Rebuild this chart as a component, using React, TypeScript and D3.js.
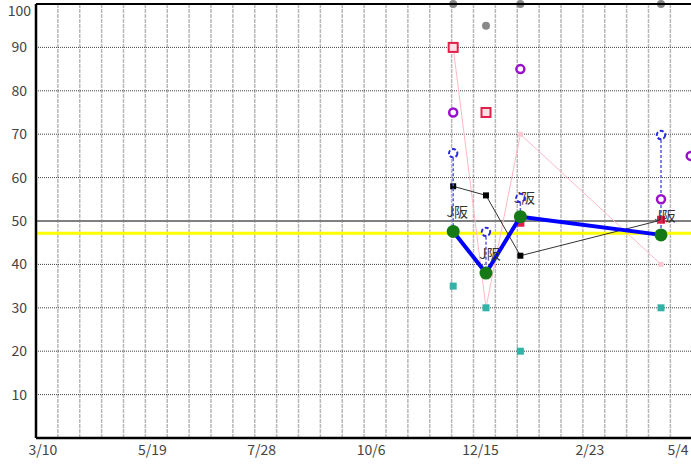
import React from "react";
import * as d3 from "d3";

// ---------- data ----------
const axisStart = "2013-03-10";
const axisEnd = "2014-05-04";
const xTickLabels = ["3/10", "5/19", "7/28", "10/6", "12/15", "2/23", "5/4"];
const yTickValues = [10, 20, 30, 40, 50, 60, 70, 80, 90, 100];

const pointDates = ["2013-12-02", "2013-12-23", "2014-01-14", "2014-04-14"];
const mainValues = [47.6, 38.0, 51.0, 46.8]; // green points, thick blue line
const mainLabels = ["J阪", "J阪", "J阪", "J阪"];
const blackValues = [58.0, 55.9, 42.0, 50.2];
const upperValues = [65.6, 47.5, 55.3, 69.8]; // blue rings
const tealValues = [35, 30, 20, 30];
const pinkValues = [90, 30, 70, 40];
const grayDates = ["2013-12-02", "2013-12-23", "2014-01-14", "2014-04-14"];
const grayValues = [100, 95, 100, 100];
const purpleDates = ["2013-12-02", "2014-01-14", "2014-04-14", "2014-05-03"];
const purpleValues = [75, 85, 55, 65];
const redOpenDates = ["2013-12-02", "2013-12-23"];
const redOpenValues = [90, 75];
const redFilledDates = ["2014-01-14", "2014-04-14"];
const redFilledValues = [49.6, 50.3];
const averageValue = 47.2;
const referenceValue = 50;

// ---------- layout ----------
const W = 691;
const H = 466;
const left = 36;
const top = 4;
const bottom = 438;
const pxPerDay = 1.5625;

const parse = d3.timeParse("%Y-%m-%d");

export default function App() {
  const d0 = parse(axisStart)!;
  const d1 = parse(axisEnd)!;
  const days = d3.timeDay.count(d0, d1);
  const x = d3.scaleTime().domain([d0, d1]).range([left, left + days * pxPerDay]);
  const y = d3.scaleLinear().domain([0, 100]).range([bottom, top]);

  const gridDates = d3.range(0, days + 30, 14).map((n) => d3.timeDay.offset(d0, n));
  const labelDates = xTickLabels.map((_, i) => d3.timeDay.offset(d0, i * 70));

  const pts = pointDates.map((d, i) => ({ x: x(parse(d)!), i }));
  const line = d3
    .line<[number, number]>()
    .x((d) => d[0])
    .y((d) => d[1]);

  const font = "'Noto Sans CJK JP', 'DejaVu Sans', sans-serif";

  return (
    <svg
      width={W}
      height={H}
      style={{ position: "absolute", left: 0, top: 0, background: "#fff" }}
    >
      <rect x={0} y={0} width={W} height={H} fill="#fff" />
      {/* vertical grid */}
      {gridDates.map((d, i) => (
        <line
          key={"vg" + i}
          x1={x(d)}
          x2={x(d)}
          y1={top}
          y2={bottom}
          stroke="#b8b8b8"
          strokeWidth={1.5}
          strokeDasharray="4,1"
        />
      ))}
      {/* horizontal grid */}
      {yTickValues
        .filter((v) => v < 100)
        .map((v) => (
          <line
            key={"hg" + v}
            x1={left}
            x2={W}
            y1={y(v)}
            y2={y(v)}
            stroke="#444"
            strokeWidth={1}
            strokeDasharray="1,1"
          />
        ))}
      {/* reference line 50 */}
      <line x1={left} x2={W} y1={y(referenceValue)} y2={y(referenceValue)} stroke="#808080" strokeWidth={2} />
      {/* average yellow line */}
      <line x1={left} x2={W} y1={y(averageValue)} y2={y(averageValue)} stroke="#ffff00" strokeWidth={3} />

      {/* pink line */}
      <path
        d={line(pts.map((p) => [p.x, y(pinkValues[p.i])]))!}
        fill="none"
        stroke="#ffb8c6"
        strokeWidth={1}
      />
      {pts.map((p) => (
        <rect key={"pk" + p.i} x={p.x - 2.5} y={y(pinkValues[p.i]) - 2.5} width={5} height={5} fill="#ffc8d4" />
      ))}

      {/* black line */}
      <path
        d={line(pts.map((p) => [p.x, y(blackValues[p.i])]))!}
        fill="none"
        stroke="#333"
        strokeWidth={1}
      />
      {pts.map((p) => (
        <rect key={"bk" + p.i} x={p.x - 3} y={y(blackValues[p.i]) - 3} width={6} height={6} fill="#000" />
      ))}

      {/* dashed range lines */}
      {pts.map((p) => (
        <line
          key={"rg" + p.i}
          x1={p.x}
          x2={p.x}
          y1={y(upperValues[p.i])}
          y2={y(mainValues[p.i])}
          stroke="#5a5ae0"
          strokeWidth={1.5}
          strokeDasharray="3,2"
        />
      ))}

      {/* teal squares */}
      {pts.map((p) => (
        <rect key={"tl" + p.i} x={p.x - 3.5} y={y(tealValues[p.i]) - 3.5} width={7} height={7} fill="#33b2a8" />
      ))}

      {/* gray dots */}
      {grayDates.map((d, i) => (
        <circle key={"gy" + i} cx={x(parse(d)!)} cy={y(grayValues[i])} r={4} fill="#888" />
      ))}

      {/* red filled */}
      {redFilledDates.map((d, i) => (
        <rect
          key={"rf" + i}
          x={x(parse(d)!) - 4}
          y={y(redFilledValues[i]) - 4}
          width={8}
          height={8}
          fill="#e0204a"
        />
      ))}

      {/* main thick blue line */}
      <path
        d={line(pts.map((p) => [p.x, y(mainValues[p.i])]))!}
        fill="none"
        stroke="#0000ff"
        strokeWidth={4}
        strokeLinejoin="round"
      />

      {/* labels */}
      {pts.map((p) => (
        <text
          key={"lb" + p.i}
          x={p.x + 4}
          y={y(mainValues[p.i]) - 14}
          textAnchor="middle"
          fontFamily={font}
          fontSize={14}
          fill="#333"
        >
          {mainLabels[p.i]}
        </text>
      ))}

      {pts.map((p) => (
        <circle key={"gn" + p.i} cx={p.x} cy={y(mainValues[p.i])} r={6.5} fill="#157a15" />
      ))}

      {/* blue rings */}
      {pts.map((p) => (
        <circle
          key={"br" + p.i}
          cx={p.x}
          cy={y(upperValues[p.i])}
          r={4.2}
          fill="#fff"
          stroke="#2a2ae0"
          strokeWidth={2}
          strokeDasharray="4,2"
        />
      ))}

      {/* purple rings */}
      {purpleDates.map((d, i) => (
        <circle
          key={"pp" + i}
          cx={x(parse(d)!)}
          cy={y(purpleValues[i])}
          r={4}
          fill="#fff"
          stroke="#9a10cc"
          strokeWidth={2.5}
        />
      ))}

      {/* red open squares */}
      {redOpenDates.map((d, i) => (
        <rect
          key={"ro" + i}
          x={x(parse(d)!) - 4.5}
          y={y(redOpenValues[i]) - 4.5}
          width={9}
          height={9}
          fill="#ffe0e6"
          stroke="#e0204a"
          strokeWidth={2}
        />
      ))}

      {/* frame */}
      <line x1={left} x2={W} y1={top} y2={top} stroke="#000" strokeWidth={2} />
      <line x1={left} x2={W} y1={bottom} y2={bottom} stroke="#000" strokeWidth={2.5} />
      <line x1={left} x2={left} y1={top} y2={bottom} stroke="#000" strokeWidth={2.5} />

      {/* y tick labels */}
      {yTickValues.map((v) => (
        <text
          key={"yl" + v}
          x={v === 100 ? 31 : 27}
          y={Math.max(y(v) + 5, 16)}
          textAnchor="end"
          fontFamily={font}
          fontSize={14}
          fill="#444"
        >
          {v}
        </text>
      ))}
      {/* x tick labels */}
      {labelDates.map((d, i) => (
        <text
          key={"xl" + i}
          x={Math.min(x(d) + 7, 678)}
          y={455}
          textAnchor="middle"
          fontFamily={font}
          fontSize={14}
          fill="#444"
        >
          {xTickLabels[i]}
        </text>
      ))}
    </svg>
  );
}
